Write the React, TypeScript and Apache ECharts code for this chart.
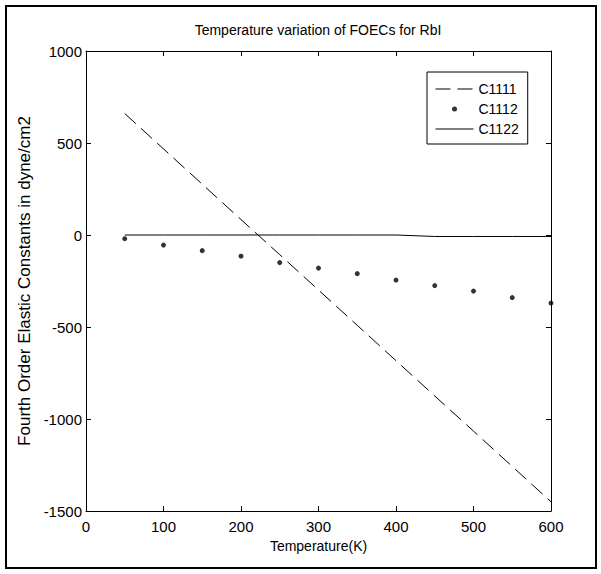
import React, { useEffect, useRef } from "react";
import * as echarts from "echarts";

const temperatures = [50, 100, 150, 200, 250, 300, 350, 400, 450, 500, 550, 600];
const c1111 = [660, 468, 276, 84, -107, -299, -491, -683, -875, -1066, -1258, -1450];
const c1112 = [-20, -55, -85, -115, -150, -180, -210, -245, -275, -305, -340, -370];
const c1122 = [0, 0, 0, 0, 0, 0, 0, 0, -8, -8, -8, -8];
const seriesNames = ["C1111", "C1112", "C1122"];
const chartTitle = "Temperature variation of FOECs for RbI";
const xName = "Temperature(K)";
const yName = "Fourth Order Elastic Constants in dyne/cm2";

const FONT = '"Liberation Sans", Arial, sans-serif';

export default function App() {
  const ref = useRef<HTMLDivElement>(null);
  useEffect(() => {
    const chart = echarts.init(ref.current!, null, { renderer: "svg" });
    const zip = (ys: number[]) => temperatures.map((t, i) => [t, ys[i]]);
    const axisCommon = {
      axisLine: { show: true, onZero: false, lineStyle: { color: "#000", width: 1 } },
      axisTick: { show: true, inside: true, length: 5, lineStyle: { color: "#000" } },
      splitLine: { show: false },
    };
    const labelStyle = { fontFamily: FONT, fontSize: 14, color: "#000" };
    chart.setOption({
      animation: false,
      backgroundColor: "#fff",
      title: {
        text: chartTitle,
        left: 318,
        top: 23,
        textAlign: "center",
        padding: 0,
        textStyle: { fontFamily: FONT, fontSize: 14, fontWeight: "normal", color: "#000" },
      },
      grid: { left: 86, top: 51, width: 465, height: 460 },
      legend: {
        orient: "vertical",
        left: 427,
        top: 72,
        backgroundColor: "#fff",
        borderColor: "#000",
        borderWidth: 1,
        borderRadius: 0,
        padding: [10, 9, 8, 8],
        itemGap: 6,
        itemWidth: 38,
        itemHeight: 14,
        textStyle: { fontFamily: FONT, fontSize: 14, color: "#000" },
        data: [
          {
            name: seriesNames[0],
            itemStyle: { opacity: 0 },
            lineStyle: { type: [15, 7], width: 1, color: "#000" },
          },
          {
            name: seriesNames[1],
            icon: "path://M0,0M38,14M16.5,7a2.5,2.5 0 1,0 5,0a2.5,2.5 0 1,0 -5,0z",
          },
          {
            name: seriesNames[2],
            itemStyle: { opacity: 0 },
            lineStyle: { type: "solid", width: 1, color: "#000" },
          },
        ],
      },
      xAxis: [
        {
          type: "value",
          position: "bottom",
          min: 0,
          max: 600,
          interval: 100,
          ...axisCommon,
          axisLabel: { ...labelStyle, fontSize: 15, margin: 8 },
          name: xName,
          nameLocation: "middle",
          nameGap: 26,
          nameTextStyle: labelStyle,
        },
        {
          type: "value",
          position: "top",
          min: 0,
          max: 600,
          interval: 100,
          ...axisCommon,
          axisLabel: { show: false },
        },
      ],
      yAxis: [
        {
          type: "value",
          position: "left",
          min: -1500,
          max: 1000,
          interval: 500,
          ...axisCommon,
          axisLabel: {
            ...labelStyle,
            fontSize: 15,
            margin: 4,
            formatter: (v: number) => String(v),
          },
          name: yName,
          nameLocation: "middle",
          nameGap: 30,
          nameTextStyle: { fontFamily: FONT, fontSize: 17, color: "#000" },
        },
        {
          type: "value",
          position: "right",
          min: -1500,
          max: 1000,
          interval: 500,
          ...axisCommon,
          axisLabel: { show: false },
        },
      ],
      series: [
        {
          name: seriesNames[0],
          type: "line",
          xAxisIndex: 0,
          yAxisIndex: 0,
          data: zip(c1111),
          symbol: "none",
          color: "#000",
          lineStyle: { color: "#000", width: 1, type: [15, 7] },
        },
        {
          name: seriesNames[1],
          type: "scatter",
          xAxisIndex: 0,
          yAxisIndex: 0,
          data: zip(c1112),
          symbol: "circle",
          symbolSize: 5,
          clip: false,
          color: "#000",
          itemStyle: { color: "#000" },
        },
        {
          name: seriesNames[2],
          type: "line",
          xAxisIndex: 0,
          yAxisIndex: 0,
          data: zip(c1122),
          symbol: "none",
          color: "#000",
          lineStyle: { color: "#000", width: 1 },
        },
      ],
      graphic: [
        {
          type: "rect",
          shape: { x: 6, y: 6, width: 590, height: 562 },
          style: { fill: "none", stroke: "#000", lineWidth: 2 },
          silent: true,
        },
      ],
    });
    return () => chart.dispose();
  }, []);
  return (
    <div
      ref={ref}
      style={{ position: "fixed", left: 0, top: 0, width: 601, height: 574, background: "#fff" }}
    />
  );
}
